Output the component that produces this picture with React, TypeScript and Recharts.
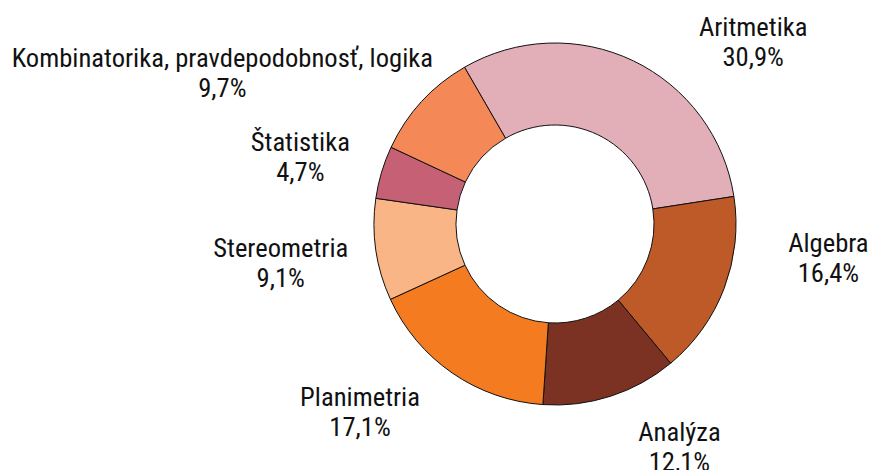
import { PieChart, Pie, Cell } from 'recharts';

const categories = [
  'Aritmetika',
  'Algebra',
  'Analýza',
  'Planimetria',
  'Stereometria',
  'Štatistika',
  'Kombinatorika, pravdepodobnosť, logika',
];
const shares = [30.9, 16.4, 12.1, 17.1, 9.1, 4.7, 9.7];
const colors = ['#E2AEB8', '#BE5A28', '#7B3223', '#F47B20', '#F9B585', '#C66074', '#F48856'];

// label nudges (px) from the default radial spot, to keep text clear of edges and neighbours
const labelNudge: [number, number][] = [
  [81, 56],
  [20, -68],
  [41, -41],
  [-41, -41],
  [-6, -6],
  [5, 5],
  [-133, 26],
];

const data = categories.map((name, i) => ({ name, value: shares[i] }));

const RAD = Math.PI / 180;
const FONT = "'Roboto Condensed', Roboto, sans-serif";

const renderLabel = (props: any) => {
  const { cx, cy, midAngle, outerRadius, index, name, value } = props;
  const r = outerRadius + 90;
  const x = cx + r * Math.cos(-midAngle * RAD) + labelNudge[index][0];
  const y = cy + r * Math.sin(-midAngle * RAD) + labelNudge[index][1];
  return (
    <text
      x={x}
      y={y}
      textAnchor="middle"
      fill="#111"
      style={{ fontFamily: FONT, fontSize: 26.6, fontStretch: 'condensed' }}
    >
      <tspan x={x} y={y}>{name}</tspan>
      <tspan x={x} y={y + 30}>{value.toFixed(1).replace('.', ',')}%</tspan>
    </text>
  );
};

export default function App() {
  return (
    <div style={{ position: 'absolute', left: 0, top: 0, width: 870, height: 470, background: '#fff' }}>
      <PieChart width={870} height={470} margin={{ top: 0, right: 0, bottom: 0, left: 0 }}>
        <Pie
          data={data}
          dataKey="value"
          nameKey="name"
          cx={555}
          cy={224}
          innerRadius={99}
          outerRadius={181}
          startAngle={120}
          endAngle={-240}
          stroke="#111"
          strokeWidth={1}
          label={renderLabel}
          labelLine={false}
          isAnimationActive={false}
        >
          {data.map((d, i) => (
            <Cell key={d.name} fill={colors[i]} />
          ))}
        </Pie>
      </PieChart>
    </div>
  );
}
